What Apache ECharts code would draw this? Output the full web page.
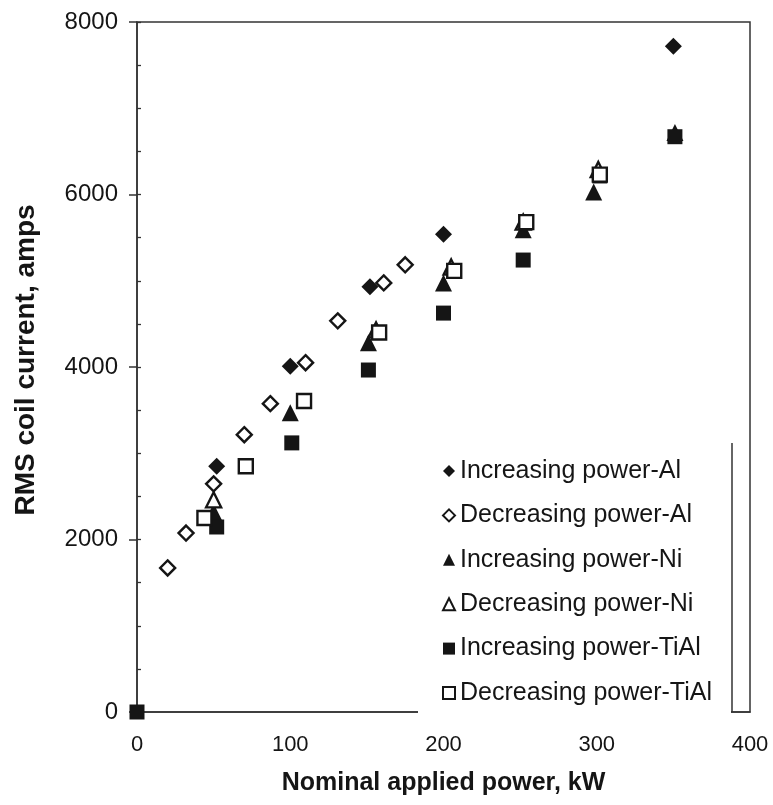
<!DOCTYPE html>
<html>
<head>
<meta charset="utf-8">
<script src="https://cdn.jsdelivr.net/npm/echarts@6/dist/echarts.min.js"></script>
<style>
html, body { margin: 0; padding: 0; background: #fff; }
#chart { width: 773px; height: 805px; }
</style>
</head>
<body>
<div id="chart"></div>
<script>
// [power kW, RMS current A]
var incAl = [[52, 2850], [100, 4010], [152, 4930], [200, 5540], [350, 7720]];
var decAl = [[20, 1670], [32, 2075], [50, 2645], [70, 3215], [87, 3575], [110, 4050], [131, 4535], [161, 4975], [175, 5185]];
var incNi = [[50, 2320], [100, 3470], [151, 4280], [200, 4975], [252, 5590], [298, 6030], [351, 6720]];
var decNi = [[50, 2460], [156, 4430], [205, 5160], [252, 5680], [301, 6290]];
var incTiAl = [[0, 0], [52, 2145], [101, 3120], [151, 3965], [200, 4625], [252, 5240], [302, 6215], [351, 6670]];
var decTiAl = [[44, 2250], [71, 2850], [109, 3605], [158, 4400], [207, 5115], [254, 5680], [302, 6230]];

var names = ['Increasing power-Al', 'Decreasing power-Al', 'Increasing power-Ni',
             'Decreasing power-Ni', 'Increasing power-TiAl', 'Decreasing power-TiAl'];
var xTicks = [0, 100, 200, 300, 400];
var yTicks = [0, 2000, 4000, 6000, 8000];

var ink = '#151515';
var font = 'Liberation Sans, Arial, Helvetica, sans-serif';

function filled(name, data, symbol, size) {
    return {
        name: name, type: 'scatter', data: data,
        symbol: symbol, symbolSize: size,
        itemStyle: { color: ink, opacity: 1 }
    };
}
function hollow(name, data, symbol, size) {
    return {
        name: name, type: 'scatter', data: data,
        symbol: symbol, symbolSize: size,
        itemStyle: { color: '#fff', borderColor: ink, borderWidth: 2.4, opacity: 1 }
    };
}

var myChart = echarts.init(document.getElementById('chart'), null, { renderer: 'canvas' });

var option = {
    animation: false,
    backgroundColor: '#fff',
    textStyle: { fontFamily: font },
    grid: {
        left: 137, right: 23, top: 22, bottom: 93,
        show: true, borderColor: '#333', borderWidth: 1.5, backgroundColor: 'transparent'
    },
    xAxis: {
        type: 'value', min: xTicks[0], max: xTicks[xTicks.length - 1], interval: 100,
        name: 'Nominal applied power, kW', nameLocation: 'middle', nameGap: 59,
        nameTextStyle: { fontSize: 25, fontWeight: 'bold', color: ink, fontFamily: font },
        axisLine: { show: true, lineStyle: { color: '#333', width: 1.5 } },
        axisTick: { show: false },
        axisLabel: { fontSize: 22, color: ink, margin: 22, fontFamily: font },
        splitLine: { show: false }
    },
    yAxis: [{
        type: 'value', min: yTicks[0], max: yTicks[yTicks.length - 1], interval: 2000,
        name: 'RMS coil current, amps', nameLocation: 'middle', nameGap: 97,
        nameTextStyle: { fontSize: 28, fontWeight: 'bold', color: ink, fontFamily: font, padding: [0, 0, 0, 14] },
        axisLine: { show: true, lineStyle: { color: '#333', width: 1.5 } },
        axisTick: { show: true, inside: false, length: 8, lineStyle: { color: '#333', width: 1.5 } },
        axisLabel: { fontSize: 24, color: ink, margin: 19, fontFamily: font, formatter: function (v) { return String(v); } },
        splitLine: { show: false }
    }, {
        type: 'value', min: 0, max: 8000, interval: 500, position: 'left', offset: 0,
        axisLine: { show: false },
        axisTick: { show: true, inside: true, length: 4, lineStyle: { color: '#333', width: 1.3 } },
        axisLabel: { show: false },
        splitLine: { show: false }
    }],
    legend: {
        orient: 'vertical', left: 437, top: 452,
        itemWidth: 12, itemHeight: 12, itemGap: 16.4,
        data: names, z: 10,
        textStyle: { fontSize: 25, color: ink, lineHeight: 28, fontFamily: font },
        selectedMode: false
    },
    graphic: [{
        type: 'rect', z: 3,
        shape: { x: 418, y: 430, width: 313, height: 288 },
        style: { fill: '#fff' }
    }, {
        type: 'line', z: 4,
        shape: { x1: 732, y1: 443, x2: 732, y2: 712 },
        style: { stroke: '#333', lineWidth: 1.5 }
    }],
    series: [
        filled(names[0], incAl, 'diamond', 17),
        hollow(names[1], decAl, 'diamond', 15),
        filled(names[2], incNi, 'triangle', 17),
        hollow(names[3], decNi, 'triangle', 15),
        filled(names[4], incTiAl, 'rect', 15),
        hollow(names[5], decTiAl, 'rect', 14)
    ]
};

myChart.setOption(option);
</script>
</body>
</html>
